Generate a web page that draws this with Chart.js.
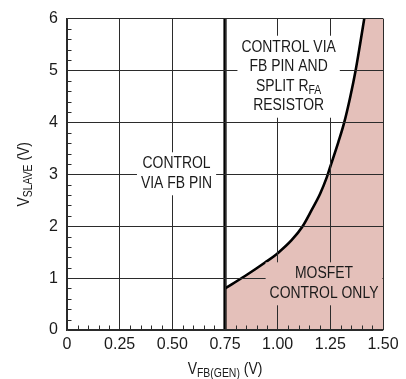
<!DOCTYPE html>
<html>
<head>
<meta charset="utf-8">
<script src="https://cdn.jsdelivr.net/npm/chart.js@4/dist/chart.umd.min.js"></script>
<style>
  html, body { margin: 0; padding: 0; background: #fff; }
  #wrap { width: 406px; height: 379px; }
</style>
</head>
<body>
<div id="wrap"><canvas id="chart" width="406" height="379"></canvas></div>
<script>
// ============ Data ============
const xTickValues = [0, 0.25, 0.5, 0.75, 1.0, 1.25, 1.5];
const xTickLabels = ['0', '0.25', '0.50', '0.75', '1.00', '1.25', '1.50'];
const yTickValues = [0, 1, 2, 3, 4, 5, 6];

// boundary between FB/split-R control and MOSFET-only control
const curveX = [0.75, 0.845, 0.94, 1.003, 1.066, 1.117, 1.161, 1.201, 1.233, 1.25, 1.288, 1.316, 1.345, 1.37, 1.391, 1.411];
const curveY = [0.80, 1.04, 1.30, 1.49, 1.73, 1.99, 2.31, 2.62, 2.94, 3.15, 3.62, 4.00, 4.50, 5.00, 5.50, 6.00];

// vertical limit at VFB(GEN) = 0.75V
const limitX = [0.75, 0.75];
const limitY = [0, 6];

// region right of the curve up to the top edge
const topFillX = [1.406, 1.5];
const topFillY = [6, 6];

// ============ Config ============
const FONT = "'Liberation Sans', Arial, sans-serif";
const SQUEEZE = 0.87;   // the original lettering is condensed
const PINK = '#e4c0ba';
const GRID = '#2b2b2b';
const INK = '#1a1a1a';

const regionLabels = [
  { lines: [['CONTROL'], ['VIA FB PIN']], x: 0.52, y: 3.01, bg: '#ffffff' },
  { lines: [['CONTROL VIA'], ['FB PIN AND'], ['SPLIT R', 'FA'], ['RESISTOR']], x: 1.052, y: 4.88, bg: '#ffffff' },
  { lines: [['MOSFET'], ['CONTROL ONLY']], x: 1.22, y: 0.89, bg: PINK }
];

const toPoints = (xs, ys) => xs.map((x, i) => ({ x, y: ys[i] }));

// ============ Drawing helpers ============
function richWidth(ctx, parts, size, subSize) {
  ctx.font = size + 'px ' + FONT;
  let w = ctx.measureText(parts[0]).width;
  if (parts[1]) {
    ctx.font = subSize + 'px ' + FONT;
    w += ctx.measureText(parts[1]).width;
  }
  if (parts[2]) {
    ctx.font = size + 'px ' + FONT;
    w += ctx.measureText(parts[2]).width;
  }
  return w * SQUEEZE;
}

// text with an optional subscript, drawn condensed
function drawRich(ctx, parts, left, midY, size, subSize, subShift) {
  ctx.save();
  ctx.translate(left, midY);
  ctx.scale(SQUEEZE, 1);
  ctx.textAlign = 'left';
  ctx.textBaseline = 'middle';
  ctx.font = size + 'px ' + FONT;
  ctx.fillText(parts[0], 0, 0);
  let x = ctx.measureText(parts[0]).width;
  if (parts[1]) {
    ctx.font = subSize + 'px ' + FONT;
    ctx.fillText(parts[1], x, subShift);
    x += ctx.measureText(parts[1]).width;
  }
  if (parts[2]) {
    ctx.font = size + 'px ' + FONT;
    ctx.fillText(parts[2], x, 0);
  }
  ctx.restore();
}

const extrasPlugin = {
  id: 'extras',
  afterDraw(chart) {
    const ctx = chart.ctx;
    const xs = chart.scales.x, ys = chart.scales.y;
    const area = chart.chartArea;
    ctx.save();

    // minor ticks along the left and bottom edges
    ctx.strokeStyle = GRID;
    ctx.lineWidth = 1;
    ctx.beginPath();
    for (let i = 1; i < 30; i++) {
      if (i % 5 === 0) continue;
      const px = Math.round(xs.getPixelForValue(i * 0.05)) + 0.5;
      ctx.moveTo(px, area.bottom);
      ctx.lineTo(px, area.bottom - 4.5);
    }
    for (let i = 1; i < 30; i++) {
      if (i % 5 === 0) continue;
      const py = Math.round(ys.getPixelForValue(i * 0.2)) + 0.5;
      ctx.moveTo(area.left, py);
      ctx.lineTo(area.left + 4.5, py);
    }
    ctx.stroke();

    // region labels with backgrounds that break the grid
    const size = 16, sub = 12, lh = 19.5;
    regionLabels.forEach(lbl => {
      const cx = xs.getPixelForValue(lbl.x);
      const cy = ys.getPixelForValue(lbl.y);
      const widths = lbl.lines.map(p => richWidth(ctx, p, size, sub));
      const w = Math.max(...widths);
      const h = lh * lbl.lines.length;
      ctx.fillStyle = lbl.bg;
      ctx.fillRect(cx - w / 2 - 4, cy - h / 2 - 2, w + 8, h + 4);
      ctx.fillStyle = INK;
      lbl.lines.forEach((p, i) => {
        const midY = cy - h / 2 + lh * (i + 0.5);
        drawRich(ctx, p, cx - widths[i] / 2, midY, size, sub, 4);
      });
    });

    // axis titles with subscripts
    ctx.fillStyle = INK;
    const xt = ['V', 'FB(GEN)', ' (V)'];
    const xw = richWidth(ctx, xt, 16, 12);
    drawRich(ctx, xt, (area.left + area.right) / 2 - xw / 2, 370, 16, 12, 4);

    const yt = ['V', 'SLAVE', ' (V)'];
    const yw = richWidth(ctx, yt, 16, 12);
    ctx.translate(25, (area.top + area.bottom) / 2);
    ctx.rotate(-Math.PI / 2);
    drawRich(ctx, yt, -yw / 2, 0, 16, 12, 4);
    ctx.restore();
  }
};

// ============ Chart ============
const lineStyle = { pointRadius: 0, pointHoverRadius: 0, fill: false };

new Chart(document.getElementById('chart').getContext('2d'), {
  type: 'line',
  data: {
    datasets: [
      { ...lineStyle, data: toPoints(curveX, curveY), borderColor: '#000', borderWidth: 2.6,
        cubicInterpolationMode: 'monotone' },
      { ...lineStyle, data: toPoints(limitX, limitY), borderColor: '#000', borderWidth: 3.2,
        borderCapStyle: 'butt' },
      { ...lineStyle, data: toPoints(topFillX, topFillY), borderWidth: 0, borderColor: 'transparent',
        backgroundColor: PINK, fill: 'origin' },
      { ...lineStyle, data: toPoints(curveX, curveY), borderWidth: 0, borderColor: 'transparent',
        backgroundColor: PINK, fill: 'origin', cubicInterpolationMode: 'monotone' }
    ]
  },
  options: {
    responsive: false,
    animation: false,
    events: [],
    layout: { padding: { top: 14, right: 23, left: 0, bottom: 0 } },
    plugins: { legend: { display: false }, tooltip: { enabled: false } },
    scales: {
      x: {
        type: 'linear', min: 0, max: 1.5,
        afterBuildTicks: axis => { axis.ticks = xTickValues.map(v => ({ value: v })); },
        afterFit: axis => { axis.height = 49; },
        ticks: {
          color: INK, padding: 5, maxRotation: 0, autoSkip: false,
          font: { family: FONT, size: 16 },
          callback: (v) => xTickLabels[xTickValues.indexOf(v)]
        },
        grid: { color: GRID, lineWidth: 1, drawTicks: false, z: 1 },
        border: { color: GRID, width: 1.2, z: 1 }
      },
      y: {
        type: 'linear', min: 0, max: 6,
        afterBuildTicks: axis => { axis.ticks = yTickValues.map(v => ({ value: v })); },
        afterFit: axis => { axis.width = 67; },
        ticks: {
          color: INK, padding: 9,
          font: { family: FONT, size: 16 },
          callback: v => String(v)
        },
        grid: { color: GRID, lineWidth: 1, drawTicks: false, z: 1 },
        border: { color: GRID, width: 1.2, z: 1 }
      }
    }
  },
  plugins: [extrasPlugin]
});
</script>
</body>
</html>
